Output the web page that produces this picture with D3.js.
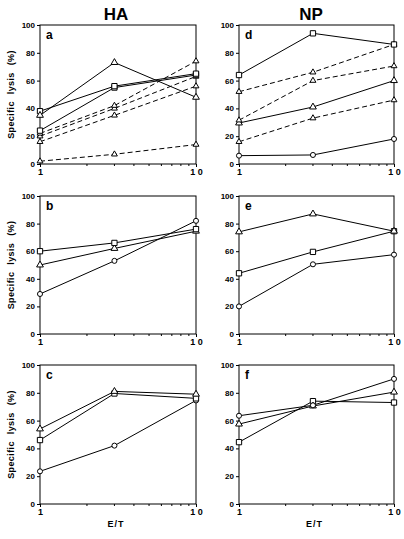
<!DOCTYPE html>
<html><head><meta charset="utf-8">
<script src="https://cdn.jsdelivr.net/npm/d3@7"></script>
<style>
body{margin:0;background:#fff;}
text{font-family:"Liberation Sans",Arial,sans-serif;font-weight:bold;fill:#000;}
</style></head>
<body><svg id="c" width="404" height="539"></svg>
<script>
// ---- data ----
const etRatios = [1, 3, 10];
const yTicks = [0, 20, 40, 60, 80, 100];
const xMinorTicks = [2, 3, 4, 5, 6, 7, 8, 9];
const xTickLabels = ["1", "1 0"];
const columnTitles = ["HA", "NP"];
const panelLetters = ["a", "b", "c", "d", "e", "f"];

// panel a (HA)
const aSolidTri = [35, 73, 48];
const aSolidSq1 = [38, 56, 65];
const aSolidSq2 = [24, 55, 64];
const aDashTri1 = [22, 42, 74];
const aDashTri2 = [20, 40, 63];
const aDashTri3 = [16, 35, 56];
const aDashTri4 = [2, 7, 14];
// panel b (HA)
const bSquare = [60, 66, 76];
const bTriangle = [50, 62, 74.5];
const bCircle = [29, 53, 82];
// panel c (HA)
const cTriangle = [54, 81, 79];
const cSquare = [46, 79.5, 76];
const cCircle = [23.5, 42, 74.5];
// panel d (NP)
const dSolidSq = [64, 94, 86];
const dDashTri1 = [52, 66, 86];
const dDashTri2 = [31.5, 60, 70.5];
const dSolidTri = [29.5, 41, 60];
const dDashTri3 = [16, 33, 46];
const dSolidCirc = [6, 6.5, 18];
// panel e (NP)
const eTriangle = [74, 87, 74.5];
const eSquare = [44, 59.5, 74.5];
const eCircle = [20, 50.5, 57.5];
// panel f (NP)
const fCircle = [63.5, 71, 90];
const fTriangle = [57.5, 70.5, 80.5];
const fSquare = [44.5, 74, 73];

// ---- series descriptors built from the arrays ----
const panels = [
  {letter:panelLetters[0], col:0, row:0, series:[
    {v:aDashTri4,m:"stri",d:true},{v:aDashTri3,m:"stri",d:true},{v:aDashTri2,m:"stri",d:true},{v:aDashTri1,m:"stri",d:true},
    {v:aSolidSq2,m:"sq",d:false},{v:aSolidSq1,m:"sq",d:false},{v:aSolidTri,m:"tri",d:false}]},
  {letter:panelLetters[1], col:0, row:1, series:[{v:bCircle,m:"circ"},{v:bTriangle,m:"tri"},{v:bSquare,m:"sq"}]},
  {letter:panelLetters[2], col:0, row:2, series:[{v:cCircle,m:"circ"},{v:cSquare,m:"sq"},{v:cTriangle,m:"tri"}]},
  {letter:panelLetters[3], col:1, row:0, series:[
    {v:dSolidCirc,m:"circ"},{v:dDashTri3,m:"stri",d:true},{v:dSolidTri,m:"tri"},{v:dDashTri2,m:"stri",d:true},
    {v:dDashTri1,m:"stri",d:true},{v:dSolidSq,m:"sq"}]},
  {letter:panelLetters[4], col:1, row:1, series:[{v:eCircle,m:"circ"},{v:eSquare,m:"sq"},{v:eTriangle,m:"tri"}]},
  {letter:panelLetters[5], col:1, row:2, series:[{v:fSquare,m:"sq"},{v:fTriangle,m:"tri"},{v:fCircle,m:"circ"}]}
];

// ---- layout ----
const colX = [[40, 196], [239, 394]];
const rowY = [[25, 164], [196, 334], [365, 504]];
const svg = d3.select("#c");

const symbols = {
  sq: d3.symbol().type(d3.symbolSquare).size(28),
  tri: d3.symbol().type(d3.symbolTriangle).size(20),
  stri: d3.symbol().type(d3.symbolTriangle).size(15),
  circ: d3.symbol().type(d3.symbolCircle).size(20)
};

columnTitles.forEach((t, i) => {
  svg.append("text").attr("x", i === 0 ? 116 : 311).attr("y", 20)
    .attr("text-anchor", "middle").style("font-size", "17px").text(t);
});

panels.forEach(p => {
  const [x0, x1] = colX[p.col];
  const [y0, y1] = rowY[p.row];
  const x = d3.scaleLog().domain([1, 10]).range([x0, x1]);
  const y = d3.scaleLinear().domain([0, 100]).range([y1, y0]);
  const g = svg.append("g");

  g.append("rect").attr("x", x0).attr("y", y0).attr("width", x1 - x0).attr("height", y1 - y0)
    .attr("fill", "none").attr("stroke", "#000").attr("stroke-width", 1);

  const ya = d3.axisLeft(y).tickValues(yTicks).tickSize(3).tickPadding(2).tickFormat(d3.format("d"));
  const yg = g.append("g").attr("transform", `translate(${x0},0)`).call(ya);
  yg.select(".domain").remove();
  yg.selectAll("text").style("font-size", "8px").style("font-family", "Liberation Sans, Arial, sans-serif").style("font-weight", "bold");

  const xa = d3.axisBottom(x).tickValues([1, 10]).tickSize(3).tickPadding(2)
    .tickFormat((d, i) => xTickLabels[i]);
  const xg = g.append("g").attr("transform", `translate(0,${y1})`).call(xa);
  xg.select(".domain").remove();
  xg.selectAll("text").style("font-size", "9px").style("font-family", "Liberation Sans, Arial, sans-serif").style("font-weight", "bold");
  g.append("g").selectAll("line").data(xMinorTicks).join("line")
    .attr("x1", d => x(d)).attr("x2", d => x(d)).attr("y1", y1).attr("y2", y1 + 2)
    .attr("stroke", "#000").attr("stroke-width", 1);

  g.append("text").attr("x", x0 + 6).attr("y", y0 + 14).style("font-size", "12px").text(p.letter);

  const line = d3.line().x((d, i) => x(etRatios[i])).y(d => y(d));
  p.series.forEach(s => {
    g.append("path").datum(s.v).attr("d", line).attr("fill", "none")
      .attr("stroke", "#000").attr("stroke-width", 1)
      .attr("stroke-dasharray", s.d ? "5,3" : null);
  });
  p.series.forEach(s => {
    g.append("g").selectAll("path").data(s.v).join("path")
      .attr("d", symbols[s.m])
      .attr("transform", (d, i) => `translate(${x(etRatios[i])},${y(d)})`)
      .attr("fill", "#fff").attr("stroke", "#000").attr("stroke-width", 1);
  });

  if (p.col === 0) {
    const cy = (y0 + y1) / 2;
    svg.append("text").attr("transform", `translate(14,${cy}) rotate(-90)`)
      .attr("text-anchor", "middle").style("font-size", "9px")
      .style("letter-spacing", "0.4px").style("word-spacing", "4px")
      .text("Specific lysis (%)");
  }
  if (p.row === 2) {
    svg.append("text").attr("x", (x0 + x1) / 2 - 2).attr("y", 527).attr("text-anchor", "middle")
      .style("font-size", "9px").style("letter-spacing", "1px").text("E/T");
  }
});
</script></body></html>
